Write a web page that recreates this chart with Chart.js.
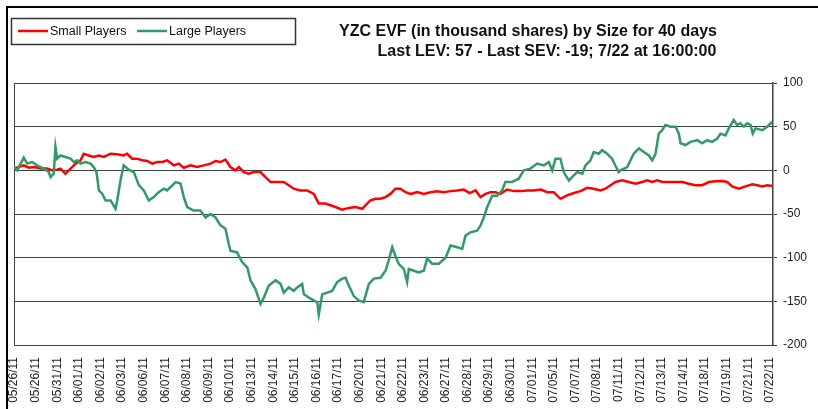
<!DOCTYPE html>
<html>
<head>
<meta charset="utf-8">
<script src="https://cdn.jsdelivr.net/npm/chart.js@4.4.1/dist/chart.umd.min.js"></script>
<style>
  html, body { margin: 0; padding: 0; background: #fff; }
  canvas { display: block; }
</style>
</head>
<body>
<canvas id="evf" width="818" height="409"></canvas>
<script>
const FONT = '"Liberation Sans", Arial, sans-serif';

const TITLE_LINES = [
  "YZC EVF (in thousand shares) by Size for 40 days",
  "Last LEV: 57 - Last SEV: -19; 7/22 at 16:00:00",
];

const DATE_LABELS = [
  "05/26/11", "05/26/11", "05/31/11", "06/01/11", "06/02/11", "06/03/11", "06/06/11", "06/07/11", "06/08/11",
  "06/09/11", "06/10/11", "06/13/11", "06/14/11", "06/15/11", "06/16/11", "06/17/11", "06/20/11", "06/21/11",
  "06/22/11", "06/23/11", "06/27/11", "06/28/11", "06/29/11", "06/30/11", "07/01/11", "07/05/11", "07/07/11",
  "07/08/11", "07/11/11", "07/12/11", "07/13/11", "07/14/11", "07/18/11", "07/19/11", "07/21/11", "07/22/11",
];

const Y_TICKS = [100, 50, 0, -50, -100, -150, -200];

// x is the position along the date axis (0 = first label), y is thousand shares
const SMALL_X = [
  0, 0.22, 0.45, 0.69, 0.92, 1.23, 1.54, 1.77, 2.00, 2.15,
  2.38, 2.62, 2.85, 3.08, 3.23, 3.46, 3.69, 3.93, 4.16, 4.47,
  4.78, 5.08, 5.24, 5.47, 5.70, 5.94, 6.17, 6.40, 6.63, 6.86,
  7.09, 7.40, 7.63, 7.86, 8.17, 8.48, 8.79, 9.10, 9.33, 9.56,
  9.79, 10.02, 10.25, 10.41, 10.64, 10.87, 11.10, 11.41, 11.64, 11.88,
  12.19, 12.49, 12.72, 12.95, 13.26, 13.57, 13.88, 14.11, 14.42, 14.65,
  14.88, 15.19, 15.50, 15.81, 16.12, 16.35, 16.50, 16.74, 16.97, 17.20,
  17.43, 17.66, 17.89, 18.13, 18.36, 18.67, 18.97, 19.28, 19.59, 19.90,
  20.21, 20.52, 20.82, 21.10, 21.37, 21.60, 21.83, 22.06, 22.29, 22.52,
  22.83, 23.14, 23.45, 23.76, 24.06, 24.38, 24.69, 24.99, 25.30, 25.61,
  25.92, 26.23, 26.54, 26.84, 27.15, 27.38, 27.62, 27.85, 28.16, 28.46,
  28.77, 29.08, 29.31, 29.55, 29.78, 30.01, 30.31, 30.63, 30.94, 31.24,
  31.55, 31.86, 32.17, 32.48, 32.79, 33.02, 33.25, 33.56, 33.87, 34.18,
  34.41, 34.64, 34.87, 35.10,
];
const SMALL_Y = [
  2, 3.8, 5.7, 3, 3.8, 2, 2, 0, 0.8, 2,
  -3.8, 2, 7.7, 11.5, 19, 17, 15.3, 17, 15.3, 19,
  18.4, 17, 19, 13.4, 13.4, 11.5, 10.7, 7.7, 9.5, 9.5,
  11.5, 5.7, 7.7, 3, 5.7, 3.8, 5.7, 7.7, 10.7, 9.5,
  12.3, 3.8, 0, 3.8, -2, -3.8, -2, -2, -7.7, -13.4,
  -13.4, -13.4, -17, -21, -23, -23, -27, -38, -38, -40,
  -42, -45, -43, -42, -44, -38, -34.5, -32.6, -32.6, -30.7,
  -27, -21, -21, -25, -27, -25, -27, -25, -24, -25,
  -23.8, -23, -22, -26, -23, -30.7, -27, -25, -25, -27,
  -22, -23.8, -23.8, -23, -23, -22, -25, -25, -32.6, -28.7,
  -26, -23.8, -20, -21, -23, -21, -17, -13.4, -11.5, -13.4,
  -15.3, -13.4, -11.5, -13.4, -11.5, -13.4, -13.4, -13.4, -13.4, -15.3,
  -17, -17, -13.4, -12.6, -12.3, -13.4, -18.4, -21, -18.4, -16,
  -17, -18.4, -17, -18,
];

const LARGE_X = [
  0, 0.15, 0.45, 0.61, 0.84, 1.07, 1.38, 1.61, 1.69, 1.84,
  1.92, 2.00, 2.15, 2.38, 2.62, 2.77, 2.93, 3.08, 3.31, 3.54,
  3.69, 3.82, 3.93, 4.08, 4.24, 4.47, 4.70, 4.78, 4.93, 5.08,
  5.31, 5.55, 5.78, 6.01, 6.24, 6.47, 6.70, 6.94, 7.09, 7.48,
  7.71, 7.86, 8.02, 8.32, 8.63, 8.87, 9.10, 9.33, 9.56, 9.79,
  9.94, 10.02, 10.33, 10.56, 10.80, 10.95, 11.18, 11.41, 11.56, 11.80,
  12.11, 12.34, 12.49, 12.72, 12.95, 13.11, 13.34, 13.42, 13.73, 14.04,
  14.11, 14.27, 14.50, 14.73, 14.96, 15.19, 15.35, 15.50, 15.73, 15.96,
  16.19, 16.43, 16.66, 16.97, 17.20, 17.35, 17.51, 17.66, 17.81, 18.05,
  18.20, 18.28, 18.51, 18.74, 18.97, 19.13, 19.36, 19.67, 19.98, 20.21,
  20.52, 20.75, 20.90, 21.13, 21.44, 21.60, 21.75, 21.91, 22.14, 22.37,
  22.60, 22.75, 23.06, 23.37, 23.60, 23.91, 24.22, 24.53, 24.76, 24.92,
  25.07, 25.30, 25.45, 25.69, 25.84, 26.07, 26.31, 26.46, 26.69, 26.84,
  27.07, 27.23, 27.46, 27.69, 27.85, 28.00, 28.08, 28.39, 28.69, 28.93,
  29.16, 29.39, 29.55, 29.70, 29.85, 30.01, 30.16, 30.39, 30.63, 30.78,
  30.86, 31.09, 31.32, 31.63, 31.86, 32.09, 32.32, 32.56, 32.71, 32.94,
  33.09, 33.32, 33.48, 33.63, 33.79, 33.94, 34.10, 34.20, 34.33, 34.64,
  34.87, 35.10,
];
const LARGE_Y = [
  4, 0, 14.6, 7.7, 9.5, 5.7, 2, -2, -7.7, -3.8,
  26.8, 13.4, 17, 15.3, 13.4, 9.5, 11.5, 7.7, 9.5, 7.7,
  3.8, -2, -23, -26.8, -34.5, -34.5, -44, -34.5, -11.5, 5.7,
  0.8, -2, -17, -23, -34.5, -30.6, -25, -21, -23, -13.4,
  -15, -30.7, -42, -46, -46, -54, -50, -54, -63, -67,
  -84, -92, -94, -105, -111, -126, -136, -153, -146, -132,
  -126, -130, -140, -134, -138, -134, -130, -142, -147, -151,
  -165, -142, -140, -138, -128, -124, -123, -132, -144, -149,
  -151, -130, -124, -123, -115, -103, -88, -98, -107, -113,
  -128, -113, -115, -117, -115, -101, -107, -107, -100, -86,
  -88, -90, -75, -71, -69, -63, -54, -42, -29, -29,
  -23, -13.4, -13.4, -9.6, 0, 2, 7.7, 5.7, 9.5, 0,
  13.4, 13.4, -2, -11.5, -7.7, -2, -3.8, 5.7, 11.5, 21,
  19, 23, 19, 13.4, 5, -2, 0, 3.8, 19, 25,
  21, 17, 11.5, 19, 42, 46, 52, 50, 50, 42,
  31, 29, 32.6, 34.5, 31, 34.5, 32.6, 36.4, 42, 40,
  48, 57.5, 52, 54, 50, 54, 52, 42, 48, 46,
  50, 55.6,
];

const SMALL_COLOR = "#ff0000";
const LARGE_COLOR = "#339966";

function points(xs, ys) {
  return xs.map((x, i) => ({ x, y: ys[i] }));
}

// outer frame, plot border, legend box and the two title lines, drawn like the Excel export
const decorations = {
  id: "decorations",
  beforeDatasetsDraw(chart) {
    const { ctx, chartArea: a } = chart;
    ctx.save();
    ctx.strokeStyle = "#404040";
    ctx.lineWidth = 1;
    ctx.beginPath();
    ctx.moveTo(Math.round(a.left) + 0.5, a.top);
    ctx.lineTo(Math.round(a.left) + 0.5, a.bottom);
    ctx.stroke();
    ctx.restore();
  },
  afterDraw(chart) {
    const ctx = chart.ctx;
    ctx.save();
    ctx.fillStyle = "#000";
    ctx.fillRect(6, 6, 2, 409);
    ctx.fillRect(6, 6, 818, 2);

    ctx.strokeStyle = "#333";
    ctx.lineWidth = 1.5;
    ctx.strokeRect(11.5, 18.5, 284, 26);

    ctx.font = `12.5px ${FONT}`;
    ctx.textBaseline = "middle";
    ctx.textAlign = "left";
    const items = [
      { x: 18, color: SMALL_COLOR, ds: 0 },
      { x: 137, color: LARGE_COLOR, ds: 1 },
    ];
    for (const it of items) {
      ctx.strokeStyle = it.color;
      ctx.lineWidth = 2.5;
      ctx.beginPath();
      ctx.moveTo(it.x, 31);
      ctx.lineTo(it.x + 30, 31);
      ctx.stroke();
      ctx.fillStyle = "#111";
      ctx.fillText(chart.data.datasets[it.ds].label, it.x + 32, 31.5);
    }

    ctx.fillStyle = "#111";
    ctx.textAlign = "center";
    ctx.font = `bold 16px ${FONT}`;
    ctx.fillText(TITLE_LINES[0], 528, 31.5);
    ctx.fillText(TITLE_LINES[1], 547, 52);
    ctx.restore();
  },
};

new Chart(document.getElementById("evf"), {
  type: "line",
  data: {
    datasets: [
      {
        label: "Small Players",
        data: points(SMALL_X, SMALL_Y),
        borderColor: SMALL_COLOR,
        order: 1,
      },
      {
        label: "Large Players",
        data: points(LARGE_X, LARGE_Y),
        borderColor: LARGE_COLOR,
        order: 0,
      },
    ],
  },
  options: {
    responsive: false,
    animation: false,
    events: [],
    layout: { padding: { left: 14, top: 83, right: 0, bottom: 0 } },
    elements: {
      point: { radius: 0 },
      line: { tension: 0, borderWidth: 2.5, fill: false },
    },
    plugins: {
      legend: { display: false },
      title: { display: false },
      tooltip: { enabled: false },
    },
    scales: {
      x: {
        type: "linear",
        min: 0,
        max: 35.14,
        afterBuildTicks: (s) => { s.ticks = DATE_LABELS.map((_, i) => ({ value: i })); },
        afterFit: (s) => { s.height = 64; },
        grid: { display: false, drawTicks: false },
        border: { display: true, color: "#404040", width: 1 },
        ticks: {
          autoSkip: false,
          minRotation: 90,
          maxRotation: 90,
          padding: 12,
          color: "#222",
          font: { family: FONT, size: 12 },
          callback: (v) => DATE_LABELS[v],
        },
      },
      y: {
        position: "right",
        min: -200,
        max: 100,
        afterBuildTicks: (s) => { s.ticks = Y_TICKS.map((v) => ({ value: v })); },
        afterFit: (s) => { s.width = 45; },
        grid: { color: "#404040", lineWidth: 1, tickLength: 4 },
        border: { color: "#404040", width: 1.5 },
        ticks: {
          padding: 6,
          color: "#222",
          font: { family: FONT, size: 12 },
          callback: (v) => String(v),
        },
      },
    },
  },
  plugins: [decorations],
});
</script>
</body>
</html>
